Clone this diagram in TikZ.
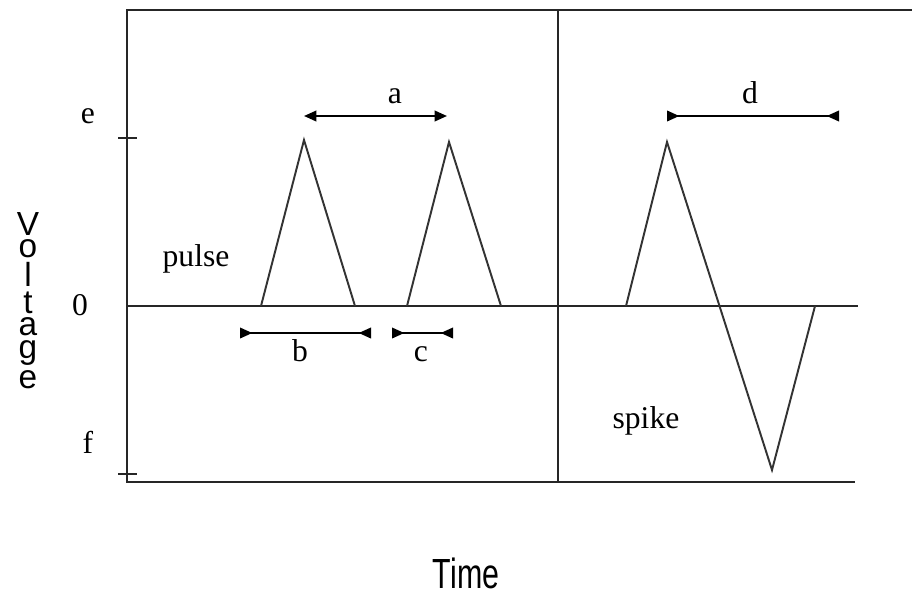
\documentclass[tikz,border=0pt]{standalone}
\usepackage{fontspec}
\setmainfont{Liberation Serif}
\setsansfont{Liberation Sans}
\usepackage{tikz}
\usetikzlibrary{arrows.meta,positioning}
\tikzset{
axis/.style={line width=1.1pt,black!85},
wave/.style={line width=1.1pt,black!80},
lbl/.style={font=\fontsize{18}{20}\selectfont,inner sep=0pt,anchor=base},
vletter/.style={font=\sffamily\fontsize{19}{19}\selectfont,inner sep=0pt},
outarrow/.style={{Triangle[length=7pt,width=6pt]}-{Triangle[length=7pt,width=6pt]},line width=1.1pt},
inarrow/.style={{Triangle[length=7pt,width=6pt,reversed]}-{Triangle[length=7pt,width=6pt,reversed]},line width=1.1pt}
}

\begin{document}
\begin{tikzpicture}[x=0.02cm,y=-0.02cm,node distance=2.2pt]
\useasboundingbox (0,0) rectangle (912,595);

% frame and axes
\draw[axis] (912,10) -- (127,10) -- (127,482) -- (855,482);
\draw[axis] (558,10) -- (558,482);
\draw[axis] (127,306) -- (858,306);
\draw[axis] (118,138) -- (137,138);
\draw[axis] (118,474) -- (137,474);

% pulses and spike
\draw[wave] (261,306) -- (304,140) -- (355,306);
\draw[wave] (407,306) -- (449,142) -- (501,306);
\draw[wave] (626,306) -- (667,142) -- (772,470) -- (815,306);

% interval ends
\coordinate (aL) at (304,116);
\coordinate (aR) at (447,116);
\coordinate (bL) at (240,333);
\coordinate (bR) at (371,333);
\coordinate (cL) at (392,333);
\coordinate (cR) at (453,333);
\coordinate (dL) at (667,116);
\coordinate (dR) at (839,116);

\draw[outarrow] (aL) -- (aR);
\draw[inarrow] (bL) -- (bR);
\draw[inarrow] (cL) -- (cR);
\draw[inarrow] (dL) -- (dR);

% labels
\node[lbl] (la) at (395,103) {a};
\node[lbl] (lb) at (300,361) {b};
\node[lbl] (lc) at (421,361) {c};
\node[lbl] (ld) at (750,103) {d};
\node[lbl] (le) at (88,123) {e};
\node[lbl] (lzero) at (80,315) {0};
\node[lbl] (lf) at (88,453) {f};
\node[lbl] (pulse) at (196,266) {pulse};
\node[lbl] (spike) at (646,428) {spike};

% vertical axis title, one letter under the other
\node[vletter,anchor=north] (v1) at (28,212) {V};
\node[vletter,below=of v1] (v2) {o};
\node[vletter,below=of v2] (v3) {l};
\node[vletter,below=of v3] (v4) {t};
\node[vletter,below=of v4] (v5) {a};
\node[vletter,below=of v5] (v6) {g};
\node[vletter,below=of v6] (v7) {e};

\node[font=\sffamily\fontsize{24}{24}\selectfont,inner sep=0pt,xscale=.72,transform shape] (time) at (466,573) {Time};
\end{tikzpicture}
\end{document}
